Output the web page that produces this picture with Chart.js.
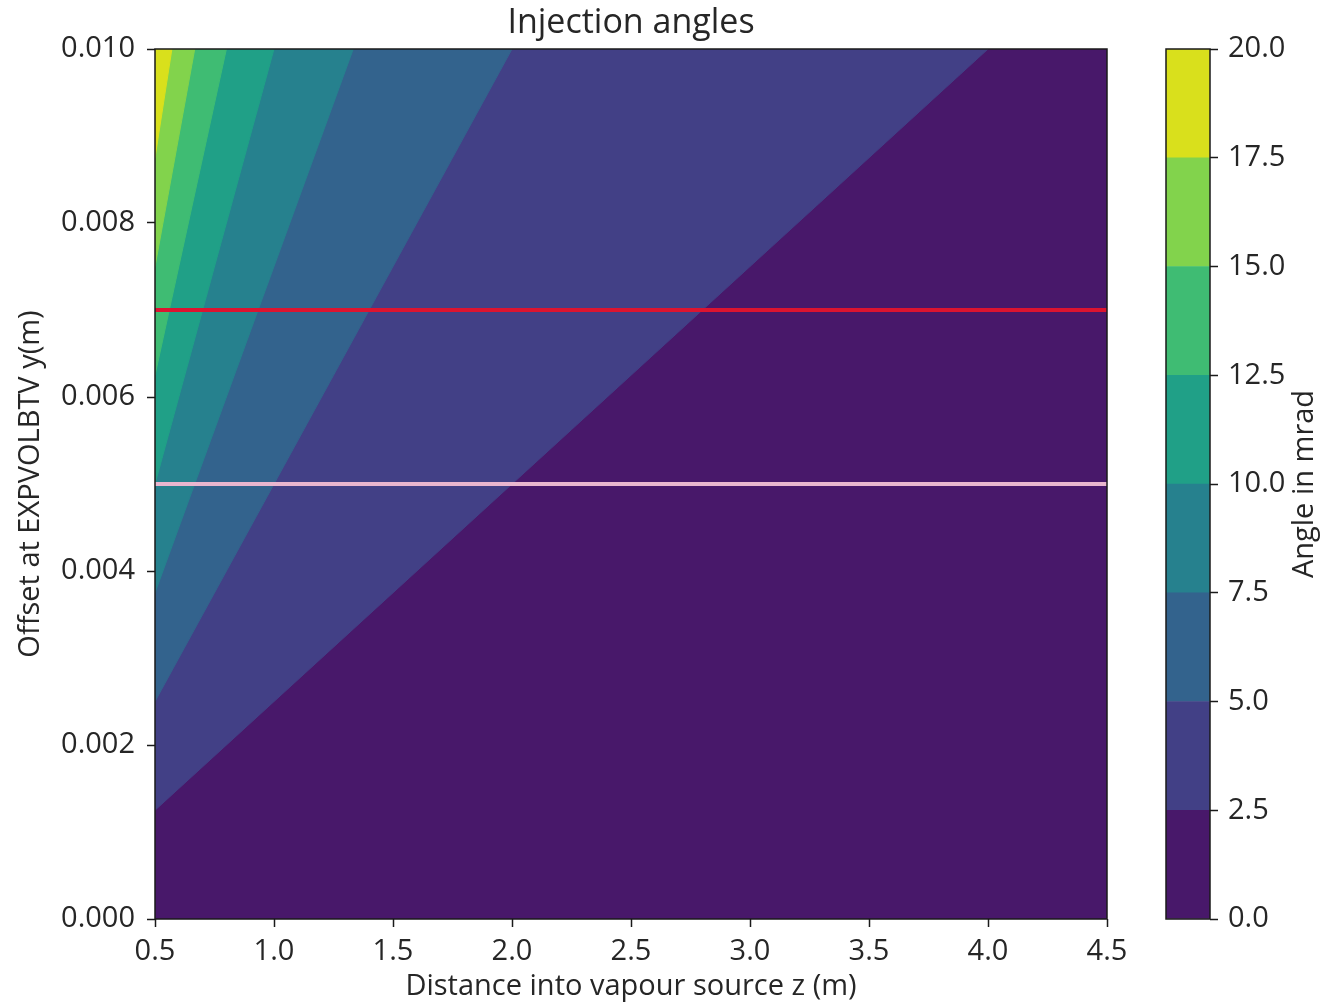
<!DOCTYPE html>
<html>
<head>
<meta charset="utf-8">
<script src="https://cdn.jsdelivr.net/npm/chart.js@4/dist/chart.umd.min.js"></script>
<style>
  body { margin: 0; background: #fff; }
  #wrap { position: relative; width: 1332px; height: 1004px; }
  #wrap canvas { position: absolute; left: 0; top: 0; }
</style>
</head>
<body>
<div id="wrap">
  <canvas id="main" width="1332" height="1004"></canvas>
  <canvas id="cbar" width="1332" height="1004"></canvas>
</div>
<script>
// contour levels of the angle (mrad) and the viridis colour of each band
const levels = [0, 2.5, 5, 7.5, 10, 12.5, 15, 17.5, 20];
const bandColors = ['#48186a', '#424086', '#33638d', '#26818e', '#20a087', '#3fbc73', '#82d34c', '#d9e01c'];

// where each contour line (2.5 ... 17.5) meets the left edge (z = 0.5) and the top edge (y = 0.010)
const edgeYAtLeft = [0.00125, 0.0025, 0.00375, 0.005, 0.00625, 0.0075, 0.00875];
const edgeZAtTop = [4.0, 2.0, 1.333, 1.0, 0.8, 0.667, 0.571];

// horizontal marker lines
const markerY = [0.007, 0.005];
const markerColors = ['#dc1430', '#e9b6cf'];

const zRange = [0.5, 4.5];
const yRange = [0, 0.010];

const FONT = "'Open Sans', 'DejaVu Sans', sans-serif";
const TXT = '#262626';
const FS = 29;

const framePlugin = {
  id: 'frame',
  afterDatasetsDraw(chart) {
    const { ctx, chartArea: a } = chart;
    ctx.save();
    ctx.strokeStyle = '#1a1a1a';
    ctx.lineWidth = 1.5;
    ctx.strokeRect(a.left, a.top, a.width, a.height);
    ctx.restore();
  }
};

// bands: each dataset fills everything above its contour line
let datasets = [];
datasets.push({
  data: [{ x: zRange[0], y: yRange[0] }, { x: zRange[1], y: yRange[0] }],
  showLine: true, pointRadius: 0, fill: 'end',
  backgroundColor: bandColors[0], borderColor: bandColors[0], borderWidth: 1,
  order: 100
});
for (let i = 0; i < edgeYAtLeft.length; i++) {
  datasets.push({
    data: [{ x: zRange[0], y: edgeYAtLeft[i] }, { x: edgeZAtTop[i], y: yRange[1] }],
    showLine: true, pointRadius: 0, fill: 'end',
    backgroundColor: bandColors[i + 1], borderColor: bandColors[i + 1], borderWidth: 1,
    order: 99 - i
  });
}
markerY.forEach((y, i) => {
  datasets.push({
    data: [{ x: zRange[0], y: y }, { x: zRange[1], y: y }],
    showLine: true, pointRadius: 0, fill: false,
    borderColor: markerColors[i], borderWidth: 4,
    order: i
  });
});

new Chart(document.getElementById('main'), {
  type: 'scatter',
  data: { datasets: datasets },
  options: {
    responsive: false,
    animation: false,
    events: [],
    layout: { padding: { left: 0, right: 225, top: 0, bottom: 0 } },
    plugins: {
      legend: { display: false },
      tooltip: { enabled: false },
      title: {
        display: true,
        text: 'Injection angles',
        fullSize: false,
        color: TXT,
        font: { family: FONT, size: 34, weight: 'normal' },
        padding: { top: 3, bottom: 5.2 }
      }
    },
    scales: {
      x: {
        type: 'linear',
        min: zRange[0], max: zRange[1],
        afterFit: (s) => { s.height = 85; },
        border: { display: false },
        grid: { drawOnChartArea: false, drawTicks: true, tickLength: 8, tickColor: '#1a1a1a', tickWidth: 1.5 },
        ticks: {
          stepSize: 0.5, padding: 7, color: TXT, maxRotation: 0,
          font: { family: FONT, size: FS },
          callback: (v) => v.toFixed(1)
        },
        title: {
          display: true, text: 'Distance into vapour source z (m)', color: TXT,
          font: { family: FONT, size: FS }, padding: { top: 0, bottom: 0 }
        }
      },
      y: {
        type: 'linear',
        min: yRange[0], max: yRange[1],
        afterFit: (s) => { s.width = 155; },
        border: { display: false },
        grid: { drawOnChartArea: false, drawTicks: true, tickLength: 8, tickColor: '#1a1a1a', tickWidth: 1.5 },
        ticks: {
          stepSize: 0.002, padding: 12, color: TXT,
          font: { family: FONT, size: FS },
          callback: (v) => v.toFixed(3)
        },
        title: {
          display: true, text: 'Offset at EXPVOLBTV y(m)', color: TXT,
          font: { family: FONT, size: FS }, padding: { top: 13, bottom: 0 }
        }
      }
    }
  },
  plugins: [framePlugin]
});

// colour bar
const cbarLabelPlugin = {
  id: 'cbarLabel',
  afterDraw(chart) {
    const { ctx, chartArea: a } = chart;
    ctx.save();
    ctx.translate(1305, (a.top + a.bottom) / 2);
    ctx.rotate(-Math.PI / 2);
    ctx.fillStyle = TXT;
    ctx.font = FS + "px " + FONT;
    ctx.textAlign = 'center';
    ctx.textBaseline = 'middle';
    ctx.fillText('Angle in mrad', 0, 0);
    ctx.restore();
  }
};

const cbarSets = bandColors.map((c, i) => ({
  data: [levels[i + 1] - levels[i]],
  backgroundColor: c,
  borderWidth: 0,
  barPercentage: 1,
  categoryPercentage: 1
}));

new Chart(document.getElementById('cbar'), {
  type: 'bar',
  data: { labels: ['angle'], datasets: cbarSets },
  options: {
    responsive: false,
    animation: false,
    events: [],
    layout: { padding: { left: 1166, right: 0, top: 49, bottom: 85 } },
    plugins: { legend: { display: false }, tooltip: { enabled: false } },
    scales: {
      x: { stacked: true, display: false },
      y: {
        stacked: true,
        position: 'right',
        min: levels[0], max: levels[levels.length - 1],
        afterFit: (s) => { s.width = 122; },
        border: { display: false },
        grid: { drawOnChartArea: false, drawTicks: true, tickLength: 8, tickColor: '#1a1a1a', tickWidth: 1.5 },
        ticks: {
          stepSize: 2.5, padding: 10, color: TXT,
          font: { family: FONT, size: FS },
          callback: (v) => v.toFixed(1)
        }
      }
    }
  },
  plugins: [framePlugin, cbarLabelPlugin]
});
</script>
</body>
</html>
